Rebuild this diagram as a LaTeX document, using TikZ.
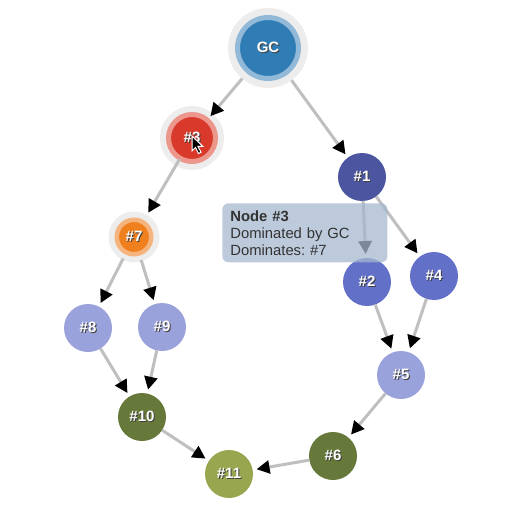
\documentclass[tikz,border=0pt]{standalone}
\usepackage{fontspec}
\setmainfont{Liberation Sans}
\usetikzlibrary{arrows.meta}
\definecolor{halobg}{HTML}{EDEDED}
\definecolor{gcblue}{HTML}{2F7DB4}
\definecolor{gcring}{HTML}{93B9D8}
\definecolor{redn}{HTML}{D8392B}
\definecolor{redring}{HTML}{EC968C}
\definecolor{orng}{HTML}{F07F1E}
\definecolor{orngring}{HTML}{F5B37E}
\definecolor{darkblue}{HTML}{4B55A0}
\definecolor{midblue}{HTML}{6370C8}
\definecolor{lightblue}{HTML}{99A2DB}
\definecolor{darkolive}{HTML}{66793A}
\definecolor{lightolive}{HTML}{98A64F}
\definecolor{edgegray}{HTML}{BFBFBF}
\definecolor{tipblue}{HTML}{A6B8CF}
\newcommand{\shd}[1]{\makebox[0pt][l]{\kern0.5pt\raisebox{-0.5pt}{\color{black!75}#1}}#1}
\frenchspacing
\begin{document}
\begin{tikzpicture}[x=0.5pt,y=-0.5pt,
  dom/.style={circle, fill=#1, minimum size=24pt, inner sep=0pt, outer sep=0pt, text=white, font=\bfseries\fontsize{7.5}{9}\selectfont},
  halo/.style={preaction={draw=halobg, line width=#1}},
  dlink/.style={draw=edgegray, line width=1.5pt, shorten >=2pt, -{Triangle[length=6.5pt,width=6.5pt,color=black]}},
  infobox/.style={fill=tipblue, fill opacity=0.75, text opacity=1, rounded corners=3pt, text=black!80, align=left, text width=74.5pt, inner xsep=4pt, inner ysep=3.5pt, font=\fontsize{7.4}{8.5}\selectfont}]
\useasboundingbox (0,0) rectangle (518,518);
\node[dom=gcblue, draw=gcring, line width=2.5pt, minimum size=30.5pt, halo=9.5pt, outer sep=4.75pt] (nid0) at (268,48){\shd{GC}};
\node[dom=redn, draw=redring, line width=2.5pt, minimum size=23.5pt, halo=8.5pt, outer sep=0.5pt] (nid3) at (192,138){\shd{\#3}};
\node[dom=orng, draw=orngring, line width=2.25pt, minimum size=17.25pt, halo=8.25pt, outer sep=3.4pt] (nid7) at (134,237){\shd{\#7}};
\node[dom=darkblue] (nid1) at (362,177){\shd{\#1}};
\node[dom=midblue] (nid2) at (367,282){\shd{\#2}};
\node[dom=midblue] (nid4) at (434,276){\shd{\#4}};
\node[dom=lightblue] (nid5) at (401,375){\shd{\#5}};
\node[dom=darkolive] (nid6) at (333,456){\shd{\#6}};
\node[dom=lightblue] (nid8) at (88,328){\shd{\#8}};
\node[dom=lightblue] (nid9) at (162,327){\shd{\#9}};
\node[dom=darkolive] (nid10) at (142,417){\shd{\#10}};
\node[dom=lightolive] (nid11) at (229,474){\shd{\#11}};
\draw[dlink](nid0) -- (nid3);
\draw[dlink](nid0) -- (nid1);
\draw[dlink](nid3) -- (nid7);
\draw[dlink](nid7) -- (nid8);
\draw[dlink](nid7) -- (nid9);
\draw[dlink](nid8) -- (nid10);
\draw[dlink](nid9) -- (nid10);
\draw[dlink](nid10) -- (nid11);
\draw[dlink](nid1) -- (nid2);
\draw[dlink](nid1) -- (nid4);
\draw[dlink](nid2) -- (nid5);
\draw[dlink](nid4) -- (nid5);
\draw[dlink](nid5) -- (nid6);
\draw[dlink](nid6) -- (nid11);
% tooltip for the hovered node
\node[infobox, anchor=north west] (tip3) at (222,203){\textbf{Node \#3}\\Dominated by GC\\Dominates: \#7};
% mouse pointer
\filldraw[fill=black, draw=white, line width=0.5pt] (192,136) -- ++(0,15) -- ++(3.5,-3.5) -- ++(3,6) -- ++(2.5,-1.2) -- ++(-3,-5.8) -- ++(5,0) -- cycle;
\end{tikzpicture}
\end{document}
